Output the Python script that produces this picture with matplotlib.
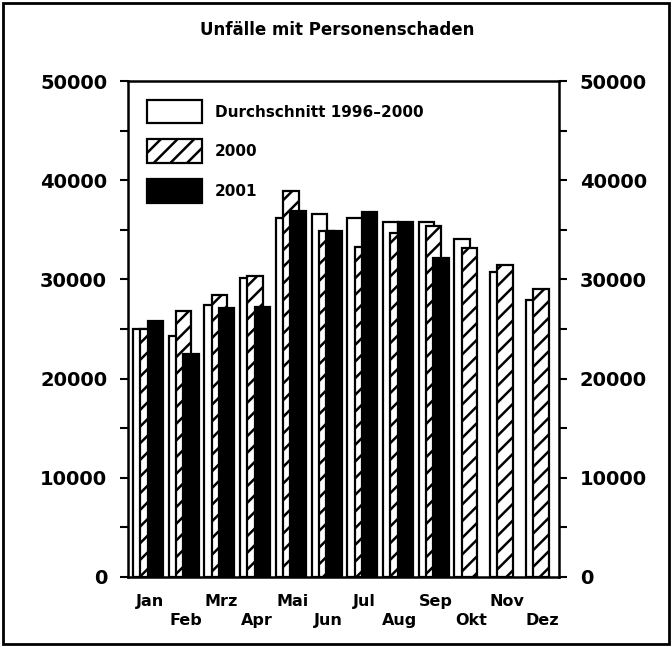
import numpy as np
import matplotlib
matplotlib.use("Agg")
import matplotlib.pyplot as plt
from matplotlib.patches import Rectangle
from matplotlib.ticker import MultipleLocator
import matplotlib.transforms as mtransforms

# Monthly accident counts
months = ["Jan", "Feb", "Mrz", "Apr", "Mai", "Jun",
          "Jul", "Aug", "Sep", "Okt", "Nov", "Dez"]
avg_96_00 = [25000, 24300, 27400, 30150, 36200, 36600,
             36200, 35800, 35800, 34100, 30750, 27900]
year_2000 = [25050, 26800, 28450, 30350, 38900, 34900,
             33300, 34700, 35400, 33200, 31450, 29050]
year_2001 = [25800, 22500, 27100, 27200, 36900, 34900,
             36800, 35800, 32150]

plt.rcParams['font.family'] = ['DejaVu Sans']
plt.rcParams['hatch.linewidth'] = 1.8
plt.rcParams['hatch.color'] = 'black'

fig = plt.figure(figsize=(6.72, 6.47), dpi=100)
ax = fig.add_axes([0.1905, 0.1082, 0.6414, 0.7666])

x = np.arange(len(months))
w = 0.43
off = 0.205

ax.bar(x - off, avg_96_00, width=w, color='white', edgecolor='black',
       linewidth=1.6, label='Durchschnitt 1996–2000', zorder=2)
ax.bar(x, year_2000, width=w, color='white', edgecolor='black',
       linewidth=1.6, hatch='//', label='2000', zorder=3)
ax.bar(x[:len(year_2001)] + off, year_2001, width=w, color='black',
       edgecolor='black', linewidth=1.6, label='2001', zorder=4)

ax.set_xlim(-0.56, 11.51)
ax.set_ylim(0, 50000)

ax.yaxis.set_major_locator(MultipleLocator(10000))
ax.yaxis.set_minor_locator(MultipleLocator(5000))
ax.tick_params(axis='y', which='both', left=True, right=True,
               labelleft=True, labelright=True, direction='out',
               length=6, width=1.5, pad=9, labelsize=14)
for lab in ax.get_yticklabels():
    lab.set_fontweight('bold')
ax.tick_params(axis='x', bottom=False, labelbottom=False)

for sp in ax.spines.values():
    sp.set_linewidth(1.8)

# month labels in two staggered rows
trans = mtransforms.blended_transform_factory(ax.transData, ax.transAxes)
for i, m in enumerate(months):
    yy = -0.050 if i % 2 == 0 else -0.087
    ax.text(i + 0.05, yy, m, transform=trans, ha='center', va='center',
            fontsize=11.5, fontweight='bold')

leg = ax.legend(loc='upper left', bbox_to_anchor=(0.044, 0.962),
                frameon=False, borderpad=0, borderaxespad=0,
                handlelength=3.6, handleheight=2.0, labelspacing=1.05,
                handletextpad=0.85, prop={'size': 11, 'weight': 'bold'})

fig.text(0.5015, 0.954, "Unfälle mit Personenschaden", ha='center',
         va='center', fontsize=12, fontweight='bold')

# outer frame
fig.patches.append(Rectangle((0.005, 0.005), 0.99, 0.99, transform=fig.transFigure,
                             fill=False, edgecolor='black', linewidth=2))

fig.savefig("out.png", dpi=100)
